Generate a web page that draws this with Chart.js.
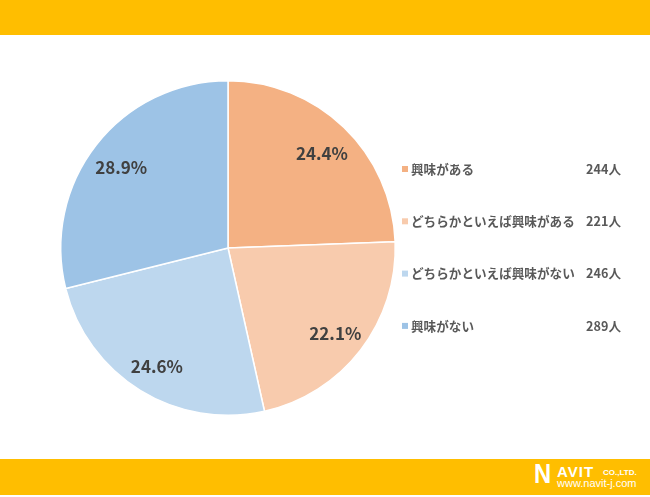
<!DOCTYPE html>
<html>
<head>
<meta charset="utf-8">
<script src="https://cdn.jsdelivr.net/npm/chart.js@4"></script>
<style>
  body { margin: 0; background: #fff; }
  #wrap { position: relative; width: 650px; height: 497px; overflow: hidden; }
  #topBar { position: absolute; left: 0; top: 0; width: 650px; height: 35px; background: #FFBE00; }
  #bottomBar { position: absolute; left: 0; top: 459px; width: 650px; height: 36px; background: #FFBE00; }
  .logo { position: absolute; color: #fff; font-family: "Liberation Sans", Arial, sans-serif; font-weight: bold; white-space: nowrap; line-height: 1; }
  #logoN { left: 534px; top: 1px; font-size: 28px; transform: scaleX(0.85); transform-origin: left; }
  #logoAvit { left: 557px; top: 5px; font-size: 15px; letter-spacing: 1px; }
  #logoCo { left: 603px; top: 10px; font-size: 8px; }
  #logoUrl { left: 557px; top: 19px; font-size: 11px; font-weight: normal; }
  canvas { position: absolute; left: 0; top: 0; }
</style>
</head>
<body>
<div id="wrap">
  <div id="topBar"></div>
  <div id="bottomBar">
    <span class="logo" id="logoN">N</span>
    <span class="logo" id="logoAvit">AVIT</span>
    <span class="logo" id="logoCo">CO.,LTD.</span>
    <span class="logo" id="logoUrl">www.navit-j.com</span>
  </div>
  <canvas id="myChart" width="650" height="497"></canvas>
</div>
<script>
let labels = ["興味がある", "どちらかといえば興味がある", "どちらかといえば興味がない", "興味がない"];
let counts = [244, 221, 246, 289];
let percents = ["24.4%", "22.1%", "24.6%", "28.9%"];
let colors = ["#F4B183", "#F8CBAD", "#BDD7EE", "#9DC3E6"];

const jpFont = '"Noto Sans CJK JP", "Noto Sans", sans-serif';

// percentage labels inside the slices
const sliceLabels = {
  id: "sliceLabels",
  afterDatasetsDraw(chart) {
    const c = chart.ctx;
    const meta = chart.getDatasetMeta(0);
    c.save();
    c.font = "bold 17px " + jpFont;
    c.fillStyle = "#404040";
    c.textAlign = "center";
    c.textBaseline = "middle";
    meta.data.forEach((arc, i) => {
      const mid = (arc.startAngle + arc.endAngle) / 2;
      const r = arc.outerRadius * 0.81;
      c.fillText(percents[i], arc.x + Math.cos(mid) * r, arc.y + Math.sin(mid) * r + 3);
    });
    c.restore();
  }
};

// legend on the right with counts
const sideLegend = {
  id: "sideLegend",
  afterDraw(chart) {
    const c = chart.ctx;
    c.save();
    c.textBaseline = "middle";
    labels.forEach((lab, i) => {
      const y = 169 + i * 52.3;
      c.fillStyle = colors[i];
      c.fillRect(402, y - 3, 6, 6);
      c.fillStyle = "#595959";
      c.font = "bold 12.6px " + jpFont;
      c.textAlign = "left";
      c.fillText(lab, 411, y);
      c.textAlign = "right";
      c.fillText(counts[i] + "人", 621, y);
    });
    c.restore();
  }
};

const config = {
  type: "pie",
  data: {
    labels: labels,
    datasets: [{
      data: counts,
      backgroundColor: colors,
      borderColor: "#ffffff",
      borderWidth: 1.5
    }]
  },
  options: {
    responsive: false,
    animation: false,
    layout: {
      padding: { left: 60, top: 80, right: 254, bottom: 81 }
    },
    plugins: {
      legend: { display: false },
      tooltip: { enabled: false }
    }
  },
  plugins: [sliceLabels, sideLegend]
};

new Chart(document.getElementById("myChart"), config);
</script>
</body>
</html>
